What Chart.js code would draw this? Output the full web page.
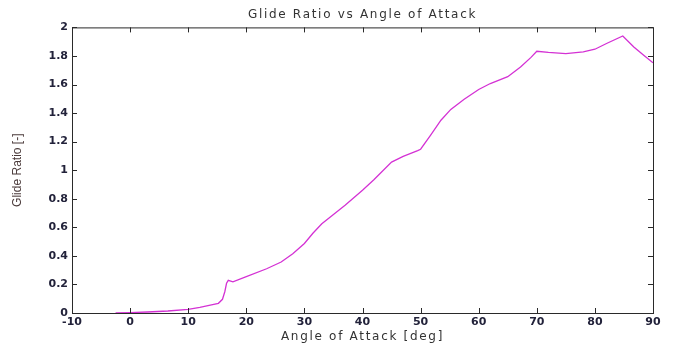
<!DOCTYPE html>
<html>
<head>
<meta charset="utf-8">
<script src="https://cdn.jsdelivr.net/npm/chart.js@4/dist/chart.umd.min.js"></script>
<style>
  html, body { margin: 0; padding: 0; background: #fff; }
  #wrap { width: 673px; height: 347px; }
</style>
</head>
<body>
<div id="wrap"><canvas id="c"></canvas></div>
<script>
// angle of attack [deg] and glide ratio
var angle = [-2.5, 0, 3, 6.5, 10, 12, 14, 15.2, 15.9, 16.3, 16.6, 16.9, 17.7, 20, 23.5, 26, 28, 30,
  31.5, 33, 35, 37, 40, 42, 45, 47, 49.5, 50, 51.7, 53.5, 55.2, 57.5, 60, 62, 65, 67.2, 69, 70,
  72, 75, 78, 80, 82, 84.8, 86.7, 88.4, 90];
var glideRatio = [0, 0.003, 0.007, 0.014, 0.026, 0.04, 0.057, 0.068, 0.096, 0.149, 0.208, 0.229, 0.218, 0.254, 0.31, 0.357, 0.415, 0.487,
  0.56, 0.625, 0.69, 0.755, 0.86, 0.935, 1.057, 1.097, 1.137, 1.147, 1.244, 1.35, 1.426, 1.497, 1.565, 1.607, 1.655, 1.723, 1.79, 1.833,
  1.825, 1.817, 1.828, 1.847, 1.887, 1.94, 1.863, 1.805, 1.752];

var xTicks = [-10, 0, 10, 20, 30, 40, 50, 60, 70, 80, 90];
var yTicks = [0, 0.2, 0.4, 0.6, 0.8, 1, 1.2, 1.4, 1.6, 1.8, 2];

var points = angle.map(function(a, i) { return {x: a, y: glideRatio[i]}; });

// matlab style box with inward tick marks
var boxPlugin = {
  id: "box",
  beforeDraw: function(chart) {
    // the original text is drawn wide, spread the titles a bit
    chart.ctx.letterSpacing = "1.7px";
  },
  afterDatasetsDraw: function(chart) {
    chart.ctx.letterSpacing = "0px";
  },
  afterDraw: function(chart) {
    var ctx = chart.ctx, a = chart.chartArea;
    var sx = chart.scales.x, sy = chart.scales.y;
    var len = 5;
    ctx.save();
    ctx.strokeStyle = "#2a2a2a";
    ctx.lineWidth = 1;
    ctx.strokeRect(a.left + 0.5, a.top + 0.5, a.right - a.left, a.bottom - a.top);
    ctx.beginPath();
    xTicks.forEach(function(v) {
      var px = Math.round(sx.getPixelForValue(v)) + 0.5;
      ctx.moveTo(px, a.bottom); ctx.lineTo(px, a.bottom - len);
      ctx.moveTo(px, a.top); ctx.lineTo(px, a.top + len);
    });
    yTicks.forEach(function(v) {
      var py = Math.round(sy.getPixelForValue(v)) + 0.5;
      ctx.moveTo(a.left, py); ctx.lineTo(a.left + len, py);
      ctx.moveTo(a.right, py); ctx.lineTo(a.right - len, py);
    });
    ctx.stroke();
    ctx.restore();
  }
};

var tickFont = {family: "'DejaVu Sans', sans-serif", size: 11, weight: "bold"};

new Chart(document.getElementById("c"), {
  type: "line",
  data: {
    datasets: [{
      data: points,
      borderColor: "rgb(212,50,212)",
      borderWidth: 1.3,
      pointRadius: 0,
      tension: 0,
      fill: false
    }]
  },
  options: {
    responsive: true,
    maintainAspectRatio: false,
    animation: false,
    layout: {padding: {left: 0, right: 20, top: 0, bottom: 0}},
    plugins: {
      legend: {display: false},
      tooltip: {enabled: false},
      title: {
        display: true,
        fullSize: false,
        text: "Glide Ratio vs Angle of Attack",
        color: "#333",
        font: {family: "'DejaVu Sans', sans-serif", size: 12, weight: "normal", lineHeight: 1.2},
        padding: {top: 8, bottom: 5}
      }
    },
    scales: {
      x: {
        type: "linear",
        min: -10,
        max: 90,
        afterFit: function(s) { s.height = 34; },
        afterBuildTicks: function(s) { s.ticks = xTicks.map(function(v) { return {value: v}; }); },
        grid: {display: false, drawTicks: false, z: -1},
        border: {display: false},
        ticks: {color: "#22223a", font: tickFont, padding: 3, maxRotation: 0, autoSkip: false, z: 1,
          callback: function(v) { return String(v); }},
        title: {
          display: true,
          text: "Angle of Attack [deg]",
          color: "#333",
          font: {family: "'DejaVu Sans', sans-serif", size: 12, lineHeight: 1.1},
          padding: {top: 0, bottom: 4}
        }
      },
      y: {
        min: 0,
        max: 2,
        afterFit: function(s) { s.width = 72; },
        afterBuildTicks: function(s) { s.ticks = yTicks.map(function(v) { return {value: v}; }); },
        grid: {display: false, drawTicks: false, z: 1},
        border: {display: false},
        ticks: {color: "#22223a", font: tickFont, padding: 4, autoSkip: false, z: 1,
          callback: function(v) { return String(Math.round(v * 10) / 10); }},
        title: {
          display: true,
          text: "Glide Ratio [-]",
          color: "#4a3a3a",
          font: {family: "'Liberation Sans Narrow', 'Arial Narrow', sans-serif", size: 12, lineHeight: 1.1},
          padding: {top: 11, bottom: 0}
        }
      }
    }
  },
  plugins: [boxPlugin]
});
</script>
</body>
</html>
